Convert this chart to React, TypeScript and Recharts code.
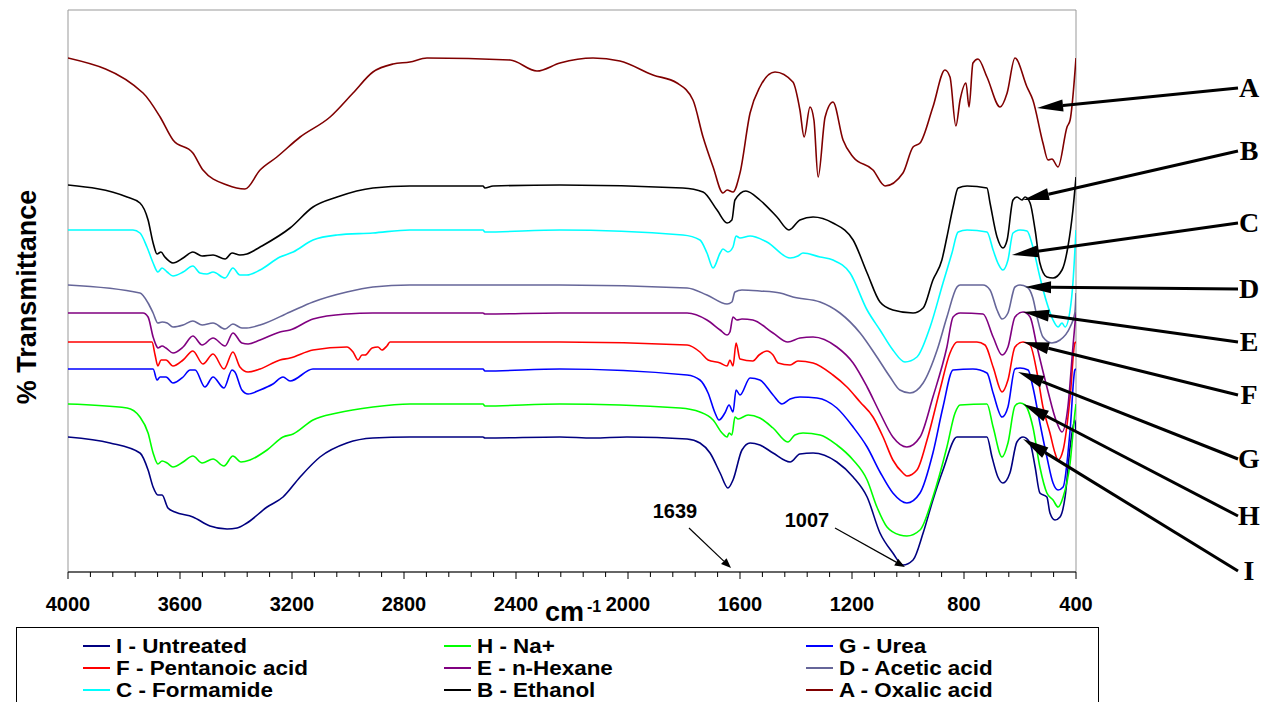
import React from 'react';
import { LineChart, Line, XAxis, YAxis, ReferenceArea } from 'recharts';

// FTIR spectra, [wavenumber cm-1, transmittance (offset, arbitrary units)]
const untreated: [number, number][] = [
  [4000, 13.5], [3850, 12.9], [3743, 11.9], [3714, 10.2], [3696, 8.5], [3679, 7.7], [3664, 7.7],
  [3643, 6.4], [3618, 6.0], [3554, 5.5], [3493, 4.6], [3432, 4.3], [3396, 4.4], [3361, 4.9],
  [3289, 6.5], [3232, 7.5], [3171, 9.5], [3100, 11.5], [3004, 12.9], [2911, 13.4], [2779, 13.5],
  [2518, 13.5], [2511, 13.4], [2243, 13.5], [2125, 13.4], [2004, 13.5], [1789, 13.3], [1743, 12.9],
  [1707, 11.9], [1671, 9.9], [1643, 8.4], [1625, 9.2], [1593, 12.2], [1564, 12.9], [1529, 12.7],
  [1482, 11.9], [1421, 11.0], [1386, 11.8], [1339, 11.9], [1254, 11.0], [1196, 9.5], [1146, 7.5],
  [1100, 3.9], [1054, 1.9], [1018, 0.7], [982, 1.2], [946, 3.9], [911, 7.2], [875, 10.2],
  [825, 13.5], [718, 13.5], [700, 11.5], [679, 9.5], [661, 8.9], [636, 9.9], [611, 13.0],
  [589, 13.5], [564, 12.9], [546, 10.5], [529, 7.9], [504, 7.5], [493, 5.9], [475, 5.2],
  [457, 5.5], [439, 7.5], [421, 12.5], [404, 15.2], [400, 14.0],
];

const sodium: [number, number][] = [
  [4000, 16.8], [3789, 16.4], [3743, 15.5], [3714, 13.9], [3696, 11.9], [3679, 10.8], [3664, 11.1],
  [3646, 10.9], [3625, 10.5], [3589, 11.0], [3554, 11.6], [3521, 10.9], [3482, 11.3], [3443, 10.6],
  [3411, 11.6], [3382, 11.0], [3350, 11.2], [3289, 12.2], [3232, 13.5], [3196, 13.8], [3125, 15.2],
  [3039, 15.9], [2911, 16.5], [2779, 16.8], [2518, 16.8], [2511, 16.6], [2243, 16.8], [1814, 16.4],
  [1743, 16.0], [1696, 15.2], [1664, 13.9], [1646, 13.5], [1639, 13.9], [1629, 13.7], [1618, 15.5],
  [1607, 15.3], [1571, 15.7], [1529, 15.4], [1482, 14.4], [1429, 13.0], [1404, 13.7], [1375, 13.9],
  [1314, 13.7], [1254, 12.7], [1196, 11.2], [1146, 9.2], [1111, 6.5], [1075, 4.5], [1029, 3.7],
  [1004, 3.6], [957, 4.2], [911, 7.5], [861, 12.5], [832, 15.9], [814, 16.7], [718, 16.8],
  [696, 14.5], [664, 11.5], [643, 12.9], [618, 16.6], [600, 16.9], [582, 16.7], [554, 14.5],
  [529, 10.5], [504, 7.9], [482, 7.2], [464, 6.5], [446, 7.5], [421, 10.9], [404, 15.9], [400, 16.8],
];

const urea: [number, number][] = [
  [4000, 20.3], [3696, 20.3], [3682, 19.2], [3671, 19.5], [3650, 19.5], [3625, 18.9], [3589, 19.5],
  [3564, 20.2], [3546, 20.2], [3511, 18.5], [3482, 19.5], [3443, 18.4], [3414, 20.2], [3404, 20.0],
  [3379, 18.2], [3357, 17.8], [3314, 18.2], [3268, 18.8], [3232, 19.5], [3207, 19.1], [3125, 20.3],
  [2886, 20.3], [2518, 20.3], [2511, 20.1], [2243, 20.3], [1789, 19.7], [1743, 19.2], [1714, 17.9],
  [1689, 15.9], [1675, 15.2], [1654, 15.9], [1639, 16.7], [1625, 16.0], [1614, 18.2], [1600, 17.7],
  [1564, 19.4], [1529, 19.2], [1482, 17.7], [1450, 16.8], [1421, 17.3], [1386, 17.5], [1325, 17.4],
  [1254, 16.4], [1196, 14.5], [1146, 12.5], [1100, 10.0], [1054, 7.9], [1004, 6.9], [957, 7.9],
  [911, 11.9], [875, 16.5], [839, 20.2], [768, 20.3], [718, 19.9], [696, 17.9], [664, 15.5],
  [643, 16.5], [618, 20.3], [600, 20.4], [571, 20.2], [554, 18.5], [529, 14.9], [504, 11.5],
  [482, 8.9], [464, 8.2], [446, 8.5], [421, 14.2], [404, 20.2], [400, 20.3],
];

const pentanoic: [number, number][] = [
  [4000, 23.0], [3700, 23.0], [3689, 21.7], [3679, 20.6], [3668, 21.2], [3650, 21.2], [3625, 20.6],
  [3589, 21.2], [3554, 22.1], [3518, 20.8], [3482, 21.8], [3443, 20.3], [3411, 22.0], [3386, 20.5],
  [3357, 20.0], [3314, 20.3], [3243, 21.2], [3207, 21.4], [3125, 22.2], [3004, 22.5], [2982, 22.0],
  [2964, 21.2], [2950, 21.7], [2939, 21.7], [2914, 22.4], [2893, 22.5], [2879, 22.2], [2861, 22.6],
  [2850, 23.0], [2243, 23.0], [1789, 22.7], [1743, 22.0], [1714, 21.2], [1671, 20.9], [1646, 20.6],
  [1636, 21.2], [1625, 20.6], [1614, 22.9], [1600, 21.3], [1554, 21.1], [1532, 21.7], [1504, 22.1],
  [1482, 21.7], [1464, 20.9], [1421, 20.7], [1393, 21.1], [1339, 20.9], [1268, 19.7], [1218, 18.5],
  [1171, 17.0], [1125, 15.5], [1089, 13.5], [1054, 11.2], [1018, 9.9], [1004, 9.6], [968, 10.2],
  [932, 13.2], [886, 18.2], [850, 21.9], [825, 23.0], [754, 23.0], [725, 22.7], [696, 20.5],
  [664, 18.0], [643, 19.2], [618, 22.5], [589, 23.0], [564, 22.7], [539, 19.9], [518, 16.5],
  [493, 13.9], [475, 11.9], [464, 11.2], [446, 12.2], [421, 17.5], [404, 22.9], [400, 23.0],
];

const hexane: [number, number][] = [
  [4000, 25.9], [3732, 25.9], [3714, 25.5], [3696, 23.5], [3682, 22.5], [3679, 22.4], [3664, 22.6],
  [3650, 22.4], [3625, 21.9], [3589, 22.5], [3554, 23.6], [3521, 22.7], [3482, 23.4], [3439, 22.6],
  [3411, 23.9], [3379, 22.9], [3357, 22.8], [3314, 23.2], [3243, 24.0], [3207, 24.2], [3125, 25.3],
  [3004, 25.8], [2911, 25.9], [2518, 25.9], [2511, 25.8], [2243, 25.9], [1789, 25.9], [1718, 25.2],
  [1671, 24.2], [1646, 23.7], [1636, 24.0], [1625, 25.5], [1611, 25.2], [1593, 25.3], [1554, 25.2],
  [1482, 23.9], [1429, 23.0], [1386, 23.4], [1339, 23.5], [1254, 22.5], [1196, 20.9], [1146, 18.5],
  [1100, 15.9], [1054, 13.5], [1004, 12.5], [957, 13.5], [911, 17.5], [861, 22.5], [839, 25.5],
  [814, 25.9], [732, 25.8], [696, 23.5], [664, 21.7], [643, 22.5], [618, 25.5], [589, 26.0],
  [564, 25.5], [539, 22.5], [504, 18.5], [468, 14.9], [450, 14.0], [429, 16.5], [411, 22.5], [400, 26.0],
];

const acetic: [number, number][] = [
  [4000, 28.7], [3743, 27.9], [3714, 26.9], [3696, 25.9], [3679, 24.9], [3664, 25.0], [3646, 24.9],
  [3625, 24.5], [3589, 24.7], [3554, 25.1], [3521, 24.7], [3482, 24.9], [3439, 24.3], [3411, 24.8],
  [3379, 24.4], [3361, 24.4], [3314, 24.7], [3207, 26.0], [3125, 27.0], [3004, 28.0], [2911, 28.5],
  [2779, 28.7], [2243, 28.7], [1789, 28.4], [1718, 27.7], [1646, 26.8], [1629, 27.0], [1618, 28.0],
  [1593, 28.2], [1529, 28.1], [1457, 27.9], [1411, 27.5], [1314, 27.0], [1243, 25.9], [1171, 23.9],
  [1111, 21.5], [1064, 19.5], [1029, 18.2], [993, 17.9], [946, 18.9], [896, 22.2], [861, 25.5],
  [825, 28.5], [814, 28.7], [732, 28.7], [707, 28.2], [682, 26.2], [664, 25.3], [643, 25.9],
  [618, 28.5], [600, 28.7], [575, 28.5], [554, 27.4], [539, 25.5], [518, 23.5], [486, 22.9],
  [457, 23.2], [421, 24.5], [404, 25.9], [400, 27.9],
];

const formamide: [number, number][] = [
  [4000, 34.2], [3768, 34.2], [3743, 33.9], [3718, 32.5], [3696, 30.9], [3679, 30.0], [3664, 30.4],
  [3646, 30.0], [3625, 29.6], [3589, 30.0], [3554, 30.6], [3529, 29.9], [3504, 29.8], [3482, 30.0],
  [3439, 29.4], [3411, 30.4], [3386, 29.7], [3361, 29.7], [3314, 30.2], [3243, 31.5], [3196, 32.0],
  [3125, 33.2], [3039, 33.7], [2911, 33.9], [2779, 34.2], [2518, 34.2], [2511, 34.0], [2243, 34.2],
  [1804, 33.7], [1743, 33.2], [1718, 31.9], [1696, 30.4], [1671, 31.9], [1661, 32.3], [1643, 32.0],
  [1625, 32.5], [1614, 33.6], [1600, 33.4], [1564, 33.6], [1504, 33.0], [1421, 31.4], [1393, 31.6],
  [1375, 31.9], [1314, 31.5], [1268, 31.2], [1207, 29.9], [1146, 26.2], [1100, 24.2], [1054, 22.2],
  [1011, 21.0], [968, 21.5], [921, 24.5], [875, 28.9], [843, 31.9], [821, 34.0], [789, 34.2],
  [718, 34.0], [696, 32.2], [679, 30.9], [661, 30.2], [643, 31.2], [625, 33.9], [600, 34.2],
  [575, 34.1], [554, 32.5], [529, 29.5], [504, 26.9], [482, 25.2], [464, 24.5], [450, 24.9],
  [439, 24.5], [421, 26.2], [411, 28.9], [400, 34.2],
];

const ethanol: [number, number][] = [
  [4000, 38.7], [3789, 37.5], [3743, 36.9], [3714, 35.2], [3696, 32.9], [3682, 31.8], [3668, 32.0],
  [3654, 31.5], [3625, 30.9], [3589, 31.4], [3554, 32.0], [3521, 31.6], [3482, 31.7], [3439, 31.3],
  [3414, 31.9], [3386, 31.7], [3361, 31.8], [3314, 32.5], [3207, 34.4], [3125, 36.5], [3039, 37.5],
  [2911, 38.4], [2779, 38.6], [2518, 38.6], [2511, 38.4], [2482, 38.6], [2243, 38.7], [1804, 38.4],
  [1732, 38.0], [1682, 36.2], [1646, 34.9], [1629, 35.2], [1618, 37.2], [1579, 38.1], [1529, 37.2],
  [1468, 35.5], [1425, 34.2], [1386, 35.2], [1339, 35.5], [1268, 34.9], [1196, 33.2], [1146, 29.9],
  [1100, 27.0], [1054, 26.2], [982, 25.9], [946, 26.4], [911, 29.2], [879, 31.2], [861, 33.5],
  [839, 36.5], [821, 38.4], [789, 38.6], [718, 38.4], [707, 36.9], [682, 33.5], [661, 32.4],
  [646, 33.2], [625, 37.2], [611, 37.5], [593, 37.2], [582, 37.5], [564, 36.9], [546, 34.2],
  [529, 30.9], [504, 29.5], [482, 29.4], [450, 30.2], [429, 32.5], [411, 36.2], [400, 39.5],
];

const oxalic: [number, number][] = [
  [4000, 51.4], [3732, 47.9], [3671, 45.5], [3625, 43.2], [3554, 41.9], [3518, 40.2], [3432, 38.7],
  [3368, 38.3], [3314, 40.2], [3254, 41.5], [3171, 43.5], [3064, 45.5], [2982, 47.9], [2911, 50.0],
  [2839, 50.8], [2779, 51.0], [2718, 51.4], [2421, 51.2], [2325, 50.1], [2243, 50.9], [2125, 51.4],
  [2029, 51.1], [1911, 49.7], [1825, 48.9], [1768, 47.2], [1732, 43.5], [1696, 40.5], [1661, 37.9],
  [1646, 38.2], [1625, 38.0], [1600, 39.9], [1564, 45.9], [1529, 48.5], [1475, 50.0], [1411, 49.0],
  [1386, 46.2], [1371, 43.5], [1350, 46.5], [1336, 45.2], [1321, 39.5], [1296, 45.5], [1268, 47.0],
  [1232, 43.2], [1196, 41.5], [1125, 40.2], [1082, 38.6], [1018, 39.9], [982, 42.5], [957, 42.9],
  [911, 46.5], [868, 50.2], [850, 49.5], [829, 44.6], [814, 47.2], [793, 48.9], [782, 46.5],
  [768, 50.9], [750, 51.3], [718, 49.5], [671, 46.5], [646, 47.9], [618, 51.4], [575, 48.5],
  [554, 47.2], [518, 42.9], [500, 41.2], [486, 41.3], [464, 40.5], [432, 44.5], [421, 45.2], [400, 51.4],
];

const series = [
  { key: 'I', name: 'I - Untreated', color: '#000080', points: untreated },
  { key: 'H', name: 'H - Na+', color: '#00ff00', points: sodium },
  { key: 'G', name: 'G - Urea', color: '#0000ff', points: urea },
  { key: 'F', name: 'F - Pentanoic acid', color: '#ff0000', points: pentanoic },
  { key: 'E', name: 'E - n-Hexane', color: '#800080', points: hexane },
  { key: 'D', name: 'D - Acetic acid', color: '#666699', points: acetic },
  { key: 'C', name: 'C - Formamide', color: '#00ffff', points: formamide },
  { key: 'B', name: 'B - Ethanol', color: '#000000', points: ethanol },
  { key: 'A', name: 'A - Oxalic acid', color: '#800000', points: oxalic },
];

const majorTicks = [4000, 3600, 3200, 2800, 2400, 2000, 1600, 1200, 800, 400];
const minorStep = 80;

// where each letter's arrow ends on its curve [wn, t], and the letter's y on the page
const letterArrows: { label: string; ly: number; tip: [number, number] }[] = [
  { label: 'A', ly: 87, tip: [539, 46.4] },
  { label: 'B', ly: 150, tip: [589, 37.2] },
  { label: 'C', ly: 222, tip: [629, 31.7] },
  { label: 'D', ly: 288, tip: [582, 28.5] },
  { label: 'E', ly: 341, tip: [589, 26.0] },
  { label: 'F', ly: 394, tip: [589, 23.0] },
  { label: 'G', ly: 458, tip: [607, 20.0] },
  { label: 'H', ly: 515, tip: [589, 16.8] },
  { label: 'I', ly: 570, tip: [589, 13.3] },
];

const W = 1274;
const H = 702;
const PLOT = { left: 68, top: 10, right: 1076, bottom: 572 };
const X_MIN = 400;
const X_MAX = 4000;
const Y_MAX = 56.2;
const AXIS_H = 30;

const xPix = (wn: number) => PLOT.left + ((X_MAX - wn) / (X_MAX - X_MIN)) * (PLOT.right - PLOT.left);
const yPix = (t: number) => PLOT.bottom - (t / Y_MAX) * (PLOT.bottom - PLOT.top);

const FONT = '"Liberation Sans", Arial, Helvetica, sans-serif';

const allTicks: number[] = [];
for (let v = X_MIN; v <= X_MAX; v += minorStep) allTicks.push(v);

const WaveTick = (props: any) => {
  const { x, y, payload } = props;
  const major = majorTicks.includes(payload.value);
  return (
    <g>
      <line x1={x} y1={y} x2={x} y2={y + (major ? 7 : 5)} stroke="#000" strokeWidth={1} />
      {major && (
        <text x={x} y={y + 39} textAnchor="middle" fontFamily={FONT} fontWeight="bold" fontSize={20} fill="#000">
          {payload.value}
        </text>
      )}
    </g>
  );
};

function Arrow({ x1, y1, x2, y2, len, half, width }: any) {
  const dx = x2 - x1;
  const dy = y2 - y1;
  const d = Math.sqrt(dx * dx + dy * dy);
  const ux = dx / d;
  const uy = dy / d;
  const bx = x2 - ux * len;
  const by = y2 - uy * len;
  const pts = `${x2},${y2} ${bx - uy * half},${by + ux * half} ${bx + uy * half},${by - ux * half}`;
  return (
    <g>
      <line x1={x1} y1={y1} x2={bx} y2={by} stroke="#000" strokeWidth={width} />
      <polygon points={pts} fill="#000" />
    </g>
  );
}

function Overlay() {
  return (
    <svg width={W} height={H} style={{ position: 'absolute', left: 0, top: 0, pointerEvents: 'none' }}>
      <text
        transform="translate(36, 297) rotate(-90)"
        textAnchor="middle"
        fontFamily={FONT}
        fontWeight="bold"
        fontSize={27}
        fill="#000"
      >
        % Transmittance
      </text>
      <text x={545} y={621} fontFamily={FONT} fontWeight="bold" fontSize={27} fill="#000">
        cm
      </text>
      <text x={587} y={612} fontFamily={FONT} fontWeight="bold" fontSize={16} fill="#000">
        -1
      </text>

      <text x={675} y={518} textAnchor="middle" fontFamily={FONT} fontWeight="bold" fontSize={20} fill="#000">
        1639
      </text>
      <Arrow x1={689} y1={528} x2={xPix(1632)} y2={568} len={10} half={4} width={1.2} />
      <text x={807} y={527} textAnchor="middle" fontFamily={FONT} fontWeight="bold" fontSize={20} fill="#000">
        1007
      </text>
      <Arrow x1={835} y1={528} x2={xPix(1011)} y2={567} len={10} half={4} width={1.2} />

      {letterArrows.map((a) => (
        <g key={a.label}>
          <Arrow x1={1238} y1={a.ly + 1} x2={xPix(a.tip[0])} y2={yPix(a.tip[1])} len={26} half={6} width={3} />
          <text
            x={1249}
            y={a.ly + 10}
            textAnchor="middle"
            fontFamily='"Liberation Serif", "Times New Roman", serif'
            fontWeight="bold"
            fontSize={28}
            fill="#000"
          >
            {a.label}
          </text>
        </g>
      ))}
    </svg>
  );
}

function SpectraLegend() {
  const colX = [82, 443, 805];
  const rowY = [645, 667, 689];
  return (
    <div
      style={{
        position: 'absolute',
        left: 16,
        top: 627,
        width: 1083,
        height: 90,
        border: '1px solid #000',
        boxSizing: 'border-box',
        background: '#fff',
      }}
    >
      {series.map((s, i) => {
        const cx = colX[i % 3] - 16;
        const cy = rowY[Math.floor(i / 3)] - 627;
        return (
          <div key={s.key} style={{ position: 'absolute', left: cx, top: cy - 11, height: 22, display: 'flex', alignItems: 'center' }}>
            <div style={{ width: 27, height: 2, background: s.color }} />
            <span
              style={{
                display: 'inline-block',
                marginLeft: 6,
                fontFamily: FONT,
                fontWeight: 'bold',
                fontSize: 19.5,
                lineHeight: '22px',
                color: '#000',
                whiteSpace: 'nowrap',
                transform: 'scaleX(1.15)',
                transformOrigin: 'left center',
              }}
            >
              {s.name}
            </span>
          </div>
        );
      })}
    </div>
  );
}

export default function App() {
  return (
    <div style={{ position: 'absolute', left: 0, top: 0, width: W, height: H, background: '#fff', overflow: 'hidden' }}>
      <LineChart
        width={W}
        height={H}
        margin={{ top: PLOT.top, right: W - PLOT.right, bottom: H - PLOT.bottom - AXIS_H, left: PLOT.left }}
      >
        <XAxis
          dataKey="wn"
          type="number"
          domain={[X_MIN, X_MAX]}
          reversed
          ticks={allTicks}
          interval={0}
          height={AXIS_H}
          tickSize={0}
          tickMargin={0}
          tickLine={false}
          tick={<WaveTick />}
          axisLine={{ stroke: '#000', strokeWidth: 1 }}
          allowDataOverflow
        />
        <YAxis type="number" domain={[0, Y_MAX]} hide allowDataOverflow />
        <ReferenceArea x1={X_MIN} x2={X_MAX} y1={0} y2={Y_MAX} fill="none" stroke="#999" strokeWidth={1} ifOverflow="visible" />
        {series.map((s) => (
          <Line
            key={s.key}
            data={s.points.map(([wn, t]) => ({ wn, t }))}
            dataKey="t"
            name={s.name}
            type="monotone"
            stroke={s.color}
            strokeWidth={1.6}
            dot={false}
            activeDot={false}
            isAnimationActive={false}
          />
        ))}
      </LineChart>
      <Overlay />
      <SpectraLegend />
    </div>
  );
}
